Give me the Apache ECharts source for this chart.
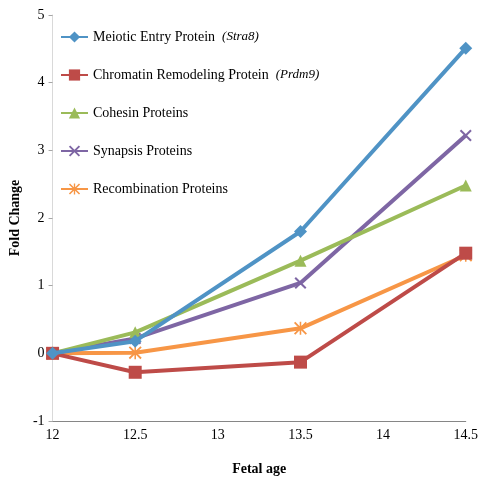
<!DOCTYPE html>
<html>
<head>
<meta charset="utf-8">
<script src="https://cdn.jsdelivr.net/npm/echarts@6/dist/echarts.min.js"></script>
<style>html,body{margin:0;padding:0;background:#fff}#c{width:481px;height:481px}</style>
</head>
<body>
<div id="c"></div>
<script>
const ages = [12, 12.5, 13.5, 14.5];
const seriesNames = ['Meiotic Entry Protein', 'Chromatin Remodeling Protein', 'Cohesin Proteins', 'Synapsis Proteins', 'Recombination Proteins'];
const geneNames = ['Stra8', 'Prdm9', '', '', ''];
const meioticEntry = [0, 0.18, 1.80, 4.51];
const chromatinRemodeling = [0, -0.28, -0.13, 1.48];
const cohesin = [0, 0.31, 1.37, 2.48];
const synapsis = [0, 0.22, 1.04, 3.22];
const recombination = [0, 0.01, 0.37, 1.45];
const xTicks = [12, 12.5, 13, 13.5, 14, 14.5];
const yTicks = [-1, 0, 1, 2, 3, 4, 5];

const allValues = [meioticEntry, chromatinRemodeling, cohesin, synapsis, recombination];
const colors = ['#4F93C5', '#BE4B48', '#9BBB59', '#7E66A4', '#F79646'];
const xPath = 'path://M0,1.2L1.2,0L5,3.8L8.8,0L10,1.2L6.2,5L10,8.8L8.8,10L5,6.2L1.2,10L0,8.8L3.8,5Z';
const starPath = 'path://M4.4,0L5.6,0L5.6,10L4.4,10Z M0,1L1,0L5,4L9,0L10,1L6,5L10,9L9,10L5,6L1,10L0,9L4,5Z';
const symbols = ['diamond', 'rect', 'triangle', xPath, starPath];
const symbolSizes = [13, 13, 12, 12, 13];
const font = "'Liberation Serif', 'DejaVu Serif', serif";

const chart = echarts.init(document.getElementById('c'), null, {renderer: 'canvas'});
chart.setOption({
  animation: false,
  backgroundColor: '#fff',
  grid: {left: 49, right: 15, top: 15, bottom: 57, containLabel: false},
  legend: {
    orient: 'vertical', left: 60, top: 30, padding: 0,
    itemWidth: 27, itemHeight: 14, itemGap: 24,
    data: seriesNames,
    formatter: function (name) {
      const g = geneNames[seriesNames.indexOf(name)];
      return g ? name + '  {i|(' + g + ')}' : name;
    },
    textStyle: {
      fontFamily: font, fontSize: 14, color: '#000',
      rich: {i: {fontFamily: font, fontStyle: 'italic', fontSize: 13, color: '#000'}}
    }
  },
  xAxis: {
    type: 'value', min: xTicks[0], max: xTicks[xTicks.length - 1], interval: 0.5,
    name: 'Fetal age', nameLocation: 'middle', nameGap: 41,
    nameTextStyle: {fontFamily: font, fontSize: 14, fontWeight: 'bold', color: '#000'},
    axisLine: {show: true, onZero: false, lineStyle: {color: '#868686', width: 1}},
    axisTick: {show: false},
    splitLine: {show: false},
    axisLabel: {fontFamily: font, fontSize: 14, color: '#000', margin: 7}
  },
  yAxis: {
    type: 'value', min: yTicks[0], max: yTicks[yTicks.length - 1], interval: 1,
    name: 'Fold Change', nameLocation: 'middle', nameGap: 22, nameRotate: 90,
    nameTextStyle: {fontFamily: font, fontSize: 14, fontWeight: 'bold', color: '#000'},
    axisLine: {show: true, lineStyle: {color: '#D9D9D9', width: 1}},
    axisTick: {show: true, length: 4, lineStyle: {color: '#A6A6A6'}},
    splitLine: {show: false},
    axisLabel: {fontFamily: font, fontSize: 14, color: '#000', margin: 8}
  },
  series: seriesNames.map((name, i) => ({
    name: name,
    type: 'line',
    data: ages.map((a, j) => [a, allValues[i][j]]),
    symbol: symbols[i],
    symbolSize: symbolSizes[i],
    showAllSymbol: true,
    color: colors[i],
    lineStyle: {width: 4, color: colors[i]},
    itemStyle: {color: colors[i]},
    z: 10 - i
  }))
});
</script>
</body>
</html>
